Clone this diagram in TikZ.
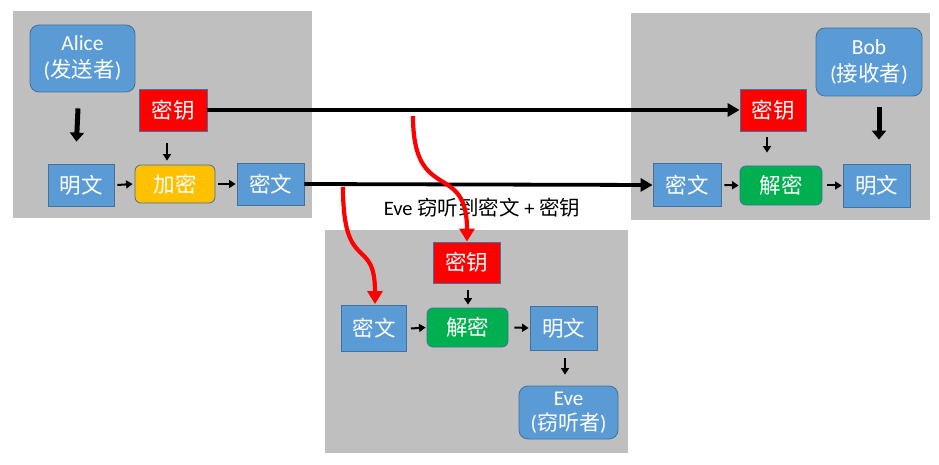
\documentclass[tikz,border=0pt]{standalone}
\usepackage{fontspec}
\setmainfont{Carlito}
\newfontfamily\cjk{Noto Sans CJK SC}
\usetikzlibrary{arrows.meta}
\definecolor{boxblue}{HTML}{5B9BD5}
\definecolor{boxedge}{HTML}{41719C}
\definecolor{panelgray}{HTML}{BFBFBF}
\definecolor{keyred}{HTML}{FF0000}
\definecolor{encyellow}{HTML}{FFC000}
\definecolor{decgreen}{HTML}{00B050}
\begin{document}
\begin{tikzpicture}[x=1pt,y=-1pt,
  panel/.style={fill=panelgray, draw=none},
  base/.style={draw=boxedge, line width=0.8pt, text=white, align=center, inner sep=0pt,
    font=\fontsize{21.5}{27}\selectfont},
  bluebox/.style={base, fill=boxblue},
  person/.style={base, fill=boxblue, rounded corners=9pt},
  keybox/.style={base, fill=keyred},
  encbox/.style={base, fill=encyellow, rounded corners=6pt},
  decbox/.style={base, fill=decgreen, rounded corners=6pt},
  longarrow/.style={line width=3.8pt, -{Triangle[length=12pt,width=13pt]}},
  fatarrow/.style={line width=5pt, -{Triangle[length=9pt,width=14pt]}},
  smallarrow/.style={line width=2pt, -{Triangle[length=6.5pt,width=8pt]}},
  taparrow/.style={draw=keyred, line width=4.2pt, -{Triangle[length=13pt,width=15pt]}},
]
\useasboundingbox (0,0) rectangle (939,465);
\fill[white] (0,0) rectangle (939,465);

% panels
\path[panel] (13,11) rectangle (312,218);
\path[panel] (631,13) rectangle (930,220);
\path[panel] (325,230) rectangle (628,453);

% Alice side
\node[person, minimum width=105pt, minimum height=67pt] (alice) at (82.5,58.5) {Alice\\({\cjk 发送者})};
\node[keybox, minimum width=68pt, minimum height=42pt] (keyL) at (173,110) {\cjk 密钥};
\node[bluebox, minimum width=66pt, minimum height=42pt] (ptL) at (81,185) {\cjk 明文};
\node[encbox, minimum width=80pt, minimum height=38pt] (enc) at (175,184) {\cjk 加密};
\node[bluebox, minimum width=67pt, minimum height=42pt] (ctL) at (270.5,184) {\cjk 密文};

% Bob side
\node[person, minimum width=106pt, minimum height=68pt] (bob) at (869,62) {Bob\\({\cjk 接收者})};
\node[keybox, minimum width=66pt, minimum height=42pt] (keyR) at (773,110) {\cjk 密钥};
\node[bluebox, minimum width=68pt, minimum height=43pt] (ctR) at (687,185) {\cjk 密文};
\node[decbox, minimum width=82pt, minimum height=39pt] (decR) at (781,185.5) {\cjk 解密};
\node[bluebox, minimum width=67pt, minimum height=43pt] (ptR) at (876.5,185.5) {\cjk 明文};

% Eve side
\node[font=\fontsize{20.5}{24}\selectfont, inner sep=0pt] (title) at (482,208) {Eve {\cjk 窃听到密文} + {\cjk 密钥}};
\node[keybox, minimum width=67pt, minimum height=41pt] (keyB) at (466.5,262.5) {\cjk 密钥};
\node[bluebox, minimum width=65pt, minimum height=46pt] (ctB) at (374,328.5) {\cjk 密文};
\node[decbox, minimum width=81pt, minimum height=39pt] (decB) at (467.5,327.5) {\cjk 解密};
\node[bluebox, minimum width=67pt, minimum height=44pt] (ptB) at (563.5,328) {\cjk 明文};
\node[person, minimum width=99pt, minimum height=53pt, font=\fontsize{21}{25}\selectfont] (eve) at (568.5,412.5) {Eve\\({\cjk 窃听者})};

% Alice flow
\draw[fatarrow] ([shift={(-4.5,16)}]alice.south) -- ([shift={(-4.5,-22)}]ptL.north);
\draw[smallarrow] ([shift={(-6,12)}]keyL.south) -- ([shift={(-8,-4)}]enc.north);
\draw[smallarrow] ([xshift=3pt]ptL.east) -- ([xshift=-2pt]enc.west);
\draw[smallarrow] ([xshift=3pt]enc.east) -- ([xshift=-1pt]ctL.west);

% long transfers
\draw[longarrow] (keyL.east) -- (keyR.west);
\draw[longarrow] (ctL.east) -- (ctR.west);

% Bob flow
\draw[fatarrow] ([shift={(10,11)}]bob.south) -- ([shift={(2.5,-24)}]ptR.north);
\draw[smallarrow] ([shift={(-6,6)}]keyR.south) -- ([shift={(-14,-13)}]decR.north);
\draw[smallarrow] ([xshift=3pt]ctR.east) -- ([xshift=-1pt]decR.west);
\draw[smallarrow] ([xshift=5pt]decR.east) -- ([xshift=-1pt]ptR.west);

% Eve flow
\draw[smallarrow] ([shift={(1.5,7)}]keyB.south) -- ([shift={(0.5,-3)}]decB.north);
\draw[smallarrow] ([xshift=4pt]ctB.east) -- ([xshift=-1pt]decB.west);
\draw[smallarrow] ([xshift=6pt]decB.east) -- ([xshift=-1pt]ptB.west);
\draw[smallarrow] ([shift={(1.5,8)}]ptB.south) -- ([shift={(-3.5,-11)}]eve.north);

% eavesdropping taps
\coordinate (tapKey) at (413,116);
\coordinate (tapCt) at (343,187);
\draw[taparrow] (tapKey) .. controls (413,205) and (467,160) .. ([xshift=0.5pt]keyB.north);
\draw[taparrow] (tapCt) .. controls (343,275) and (375,235) .. ([shift={(1,-1)}]ctB.north);
\end{tikzpicture}
\end{document}
